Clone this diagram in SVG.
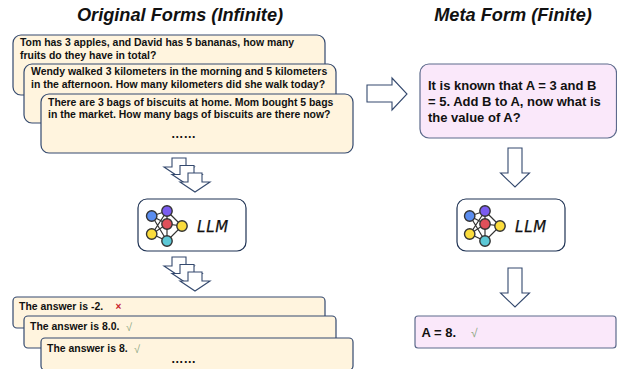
<svg xmlns="http://www.w3.org/2000/svg" xmlns:xlink="http://www.w3.org/1999/xlink" width="617" height="369" viewBox="0 0 617 369">
<style>
text{font-family:"Liberation Sans",Arial,sans-serif;fill:#111}
.t{font-size:18.2px;font-weight:bold;font-style:italic;text-anchor:middle}
.b{font-size:10.45px;font-weight:bold}
.d{font-size:12.500px;font-weight:bold}
.m{font-size:13px;font-weight:bold}
.y{fill:#fff4de;stroke:#34496e;stroke-width:1.2}
.p{fill:#fae8fa;stroke:#5d6a8c;stroke-width:1.2}
.a{fill:#fff;stroke:#34496e;stroke-width:1.1}
.w{fill:#fff;stroke:#1f3354;stroke-width:1.2}
.e{stroke:#333;stroke-width:1.2;fill:none}
.n{stroke:#333;stroke-width:1.4}
.l{font-family:"DejaVu Sans",sans-serif;font-size:15px;font-style:italic;letter-spacing:.8px;fill:#111;stroke:#111;stroke-width:.25}
</style>
<defs>
<path id="sm" class="a" d="M172 158H186V167H194L179 177L164 167H172Z"/>
<path id="bg" class="a" d="M508 0H522V25H529.500L515 39L500.500 25H508Z"/>
<g id="net">
<path class="e" d="M152 216L167 211L167 224L182 226L167 241L152 234L167 211M152 216L167 224M152 216L167 241M152 234L167 224L167 241M167 211L182 226"/>
<circle class="n" cx="151.700" cy="216" r="5.200" fill="#5b8def"/>
<circle class="n" cx="167" cy="211" r="5.200" fill="#7b5cf0"/>
<circle class="n" cx="167" cy="224" r="5.200" fill="#e0505a"/>
<circle class="n" cx="182" cy="226" r="5.200" fill="#fbdc3c"/>
<circle class="n" cx="151.700" cy="234" r="5.200" fill="#fbdc3c"/>
<circle class="n" cx="167" cy="241" r="5.200" fill="#5cc8d6"/>
</g>
</defs>
<text class="t" x="180" y="21">Original Forms (Infinite)</text>
<text class="t" x="513" y="21">Meta Form (Finite)</text>
<g id="q1"><rect class="y" x="13" y="35" width="312" height="60" rx="8"/>
<text class="b" x="20" y="46">Tom has 3 apples, and David has 5 bananas, how many</text>
<text class="b" x="20" y="59">fruits do they have in total?</text></g>
<g id="q2"><rect class="y" x="24" y="64" width="312" height="59" rx="8"/>
<text class="b" x="31" y="75">Wendy walked 3 kilometers in the morning and 5 kilometers</text>
<text class="b" x="31" y="88">in the afternoon. How many kilometers did she walk today?</text></g>
<g id="q3"><rect class="y" x="41" y="94" width="312" height="59" rx="8"/>
<text class="b" x="48" y="106">There are 3 bags of biscuits at home. Mom bought 5 bags</text>
<text class="b" x="48" y="118">in the market. How many bags of biscuits are there now?</text>
<text class="d" x="171" y="138">……</text></g>
<g id="connectors">
<use xlink:href="#sm"/><use xlink:href="#sm" x="8" y="7.500"/><use xlink:href="#sm" x="16" y="15"/>
<use xlink:href="#sm" y="99"/><use xlink:href="#sm" x="8" y="106.500"/><use xlink:href="#sm" x="16" y="114"/>
<path class="a" d="M367 85H392V78L407 94L392 110V102H367Z"/>
<use xlink:href="#bg" y="148"/><use xlink:href="#bg" y="268"/>
</g>
<g id="llm1"><rect class="w" x="138" y="199" width="108" height="52" rx="9"/><use xlink:href="#net"/><text class="l" x="197" y="232">LLM</text></g>
<g id="llm2"><rect class="w" x="457" y="199" width="108" height="52" rx="9"/><use xlink:href="#net" x="318"/><text class="l" x="515" y="232">LLM</text></g>
<g id="a1"><rect class="y" x="13" y="297" width="312" height="31" rx="4"/>
<text class="b" x="19" y="310">The answer is -2.</text><text x="115.500" y="310" font-size="10" font-weight="bold" style="fill:#c8232c">×</text></g>
<g id="a2"><rect class="y" x="24" y="316" width="312" height="32" rx="4"/>
<text class="b" x="30" y="330">The answer is 8.0.</text><text x="126" y="331" font-size="11" style="fill:#8aa67f">√</text></g>
<g id="a3"><rect class="y" x="41" y="338" width="312" height="32" rx="4"/>
<text class="b" x="47" y="352">The answer is 8.</text><text x="134" y="353" font-size="11" style="fill:#8aa67f">√</text>
<text class="d" x="171" y="363">……</text></g>
<g id="meta"><rect class="p" x="420" y="64" width="196.500" height="74" rx="9"/>
<text class="m" x="428" y="90">It is known that A = 3 and B</text>
<text class="m" x="428" y="106">= 5. Add B to A, now what is</text>
<text class="m" x="428" y="122">the value of A?</text></g>
<g id="res"><rect class="p" x="415" y="316" width="201" height="32" rx="3"/>
<text class="m" x="421.500" y="337">A = 8.</text><text x="471" y="337" font-size="12" style="fill:#8aa67f">√</text></g>
</svg>
